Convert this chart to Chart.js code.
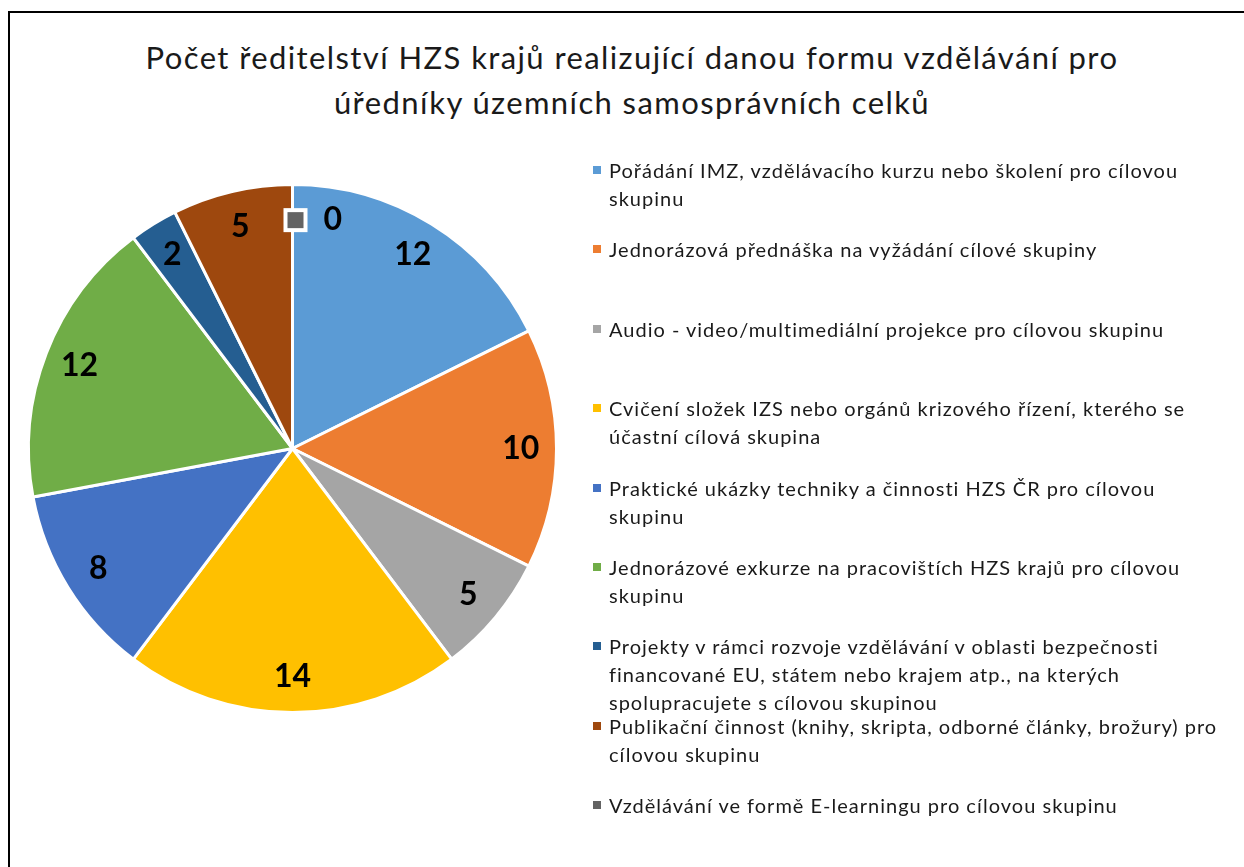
<!DOCTYPE html>
<html>
<head>
<meta charset="UTF-8">
<title>Počet ředitelství HZS krajů</title>
<script src="https://cdn.jsdelivr.net/npm/chart.js"></script>
<style>
    html, body {
        margin: 0;
        padding: 0;
        background: #fff;
        overflow: hidden;
    }
    body {
        width: 1244px;
        height: 867px;
        position: relative;
        font-family: Lato, "Open Sans", sans-serif;
    }
    #frame {
        position: absolute;
        left: 8px;
        top: 11px;
        width: 1300px;
        height: 900px;
        border: 2px solid #000;
    }
    #title {
        position: absolute;
        left: 10px;
        width: 1244px;
        top: 35px;
        text-align: center;
        font-size: 31px;
        letter-spacing: 1.4px;
        line-height: 45px;
        color: #1a1a1a;
    }
    #chart {
        position: absolute;
        left: 0;
        top: 0;
    }
    #legend .item {
        position: absolute;
        left: 593px;
        width: 645px;
        font-size: 20px;
        letter-spacing: 1px;
        line-height: 28px;
        color: #1a1a1a;
    }
    #legend .box {
        position: absolute;
        left: 0;
        top: 10px;
        width: 8px;
        height: 8px;
    }
    #legend .text {
        margin-left: 16px;
        white-space: nowrap;
    }
</style>
</head>
<body>
<div id="frame"></div>
<div id="title">Počet ředitelství HZS krajů realizující danou formu vzdělávání pro<br>úředníky územních samosprávních celků</div>
<canvas id="chart" width="1244" height="867"></canvas>
<div id="legend"></div>

<script>
    const categories = [
        ['Pořádání IMZ, vzdělávacího kurzu nebo školení pro cílovou', 'skupinu'],
        ['Jednorázová přednáška na vyžádání cílové skupiny'],
        ['Audio - video/multimediální projekce pro cílovou skupinu'],
        ['Cvičení složek IZS nebo orgánů krizového řízení, kterého se', 'účastní cílová skupina'],
        ['Praktické ukázky techniky a činnosti HZS ČR pro cílovou', 'skupinu'],
        ['Jednorázové exkurze na pracovištích HZS krajů pro cílovou', 'skupinu'],
        ['Projekty v rámci rozvoje vzdělávání v oblasti bezpečnosti', 'financované EU, státem nebo krajem atp., na kterých', 'spolupracujete s cílovou skupinou'],
        ['Publikační činnost (knihy, skripta, odborné články, brožury) pro', 'cílovou skupinu'],
        ['Vzdělávání ve formě E-learningu pro cílovou skupinu']
    ];
    const counts = [12, 10, 5, 14, 8, 12, 2, 5, 0];
    const colors = ['#5B9BD5', '#ED7D31', '#A5A5A5', '#FFC000', '#4472C4', '#70AD47', '#255E91', '#9E480E', '#636363'];

    // popisky hodnot uvnitř výsečí
    const valueLabels = {
        id: 'valueLabels',
        afterDatasetsDraw(chart) {
            const ctx = chart.ctx;
            const meta = chart.getDatasetMeta(0);
            ctx.save();
            ctx.font = 'bold 32px Lato, sans-serif';
            ctx.fillStyle = '#000';
            ctx.textBaseline = 'middle';
            meta.data.forEach((arc, i) => {
                const p = arc.getProps(['x', 'y', 'startAngle', 'endAngle', 'outerRadius'], true);
                const mid = (p.startAngle + p.endAngle) / 2;
                const r = p.outerRadius * 0.865;
                const x = p.x + Math.cos(mid) * r;
                const y = p.y + Math.sin(mid) * r;
                const v = chart.data.datasets[0].data[i];
                if (v === 0) {
                    // u nulové hodnoty je i klíč legendy
                    ctx.fillStyle = '#fff';
                    ctx.fillRect(x - 9, y - 12, 24, 24);
                    ctx.fillStyle = colors[i];
                    ctx.fillRect(x - 5, y - 8, 16, 16);
                    ctx.fillStyle = '#000';
                    ctx.textAlign = 'left';
                    ctx.fillText(String(v), x + 31, y);
                } else {
                    ctx.textAlign = 'center';
                    ctx.fillText(String(v), x, y);
                }
            });
            ctx.restore();
        }
    };

    const chart = new Chart(document.getElementById('chart').getContext('2d'), {
        type: 'pie',
        data: {
            labels: categories,
            datasets: [{
                data: counts,
                backgroundColor: colors,
                borderColor: '#fff',
                borderWidth: 3
            }]
        },
        options: {
            responsive: false,
            animation: false,
            layout: {
                padding: { left: 27, right: 686, top: 183, bottom: 153 }
            },
            plugins: {
                legend: { display: false },
                title: { display: false },
                tooltip: { enabled: false }
            }
        },
        plugins: [valueLabels]
    });

    // legenda vpravo
    const legend = document.getElementById('legend');
    chart.data.labels.forEach((lines, i) => {
        const item = document.createElement('div');
        item.className = 'item';
        item.style.top = (156 + i * 79.4) + 'px';
        const box = document.createElement('span');
        box.className = 'box';
        box.style.background = colors[i];
        const text = document.createElement('div');
        text.className = 'text';
        text.innerHTML = lines.join('<br>');
        item.appendChild(box);
        item.appendChild(text);
        legend.appendChild(item);
    });
</script>
</body>
</html>
